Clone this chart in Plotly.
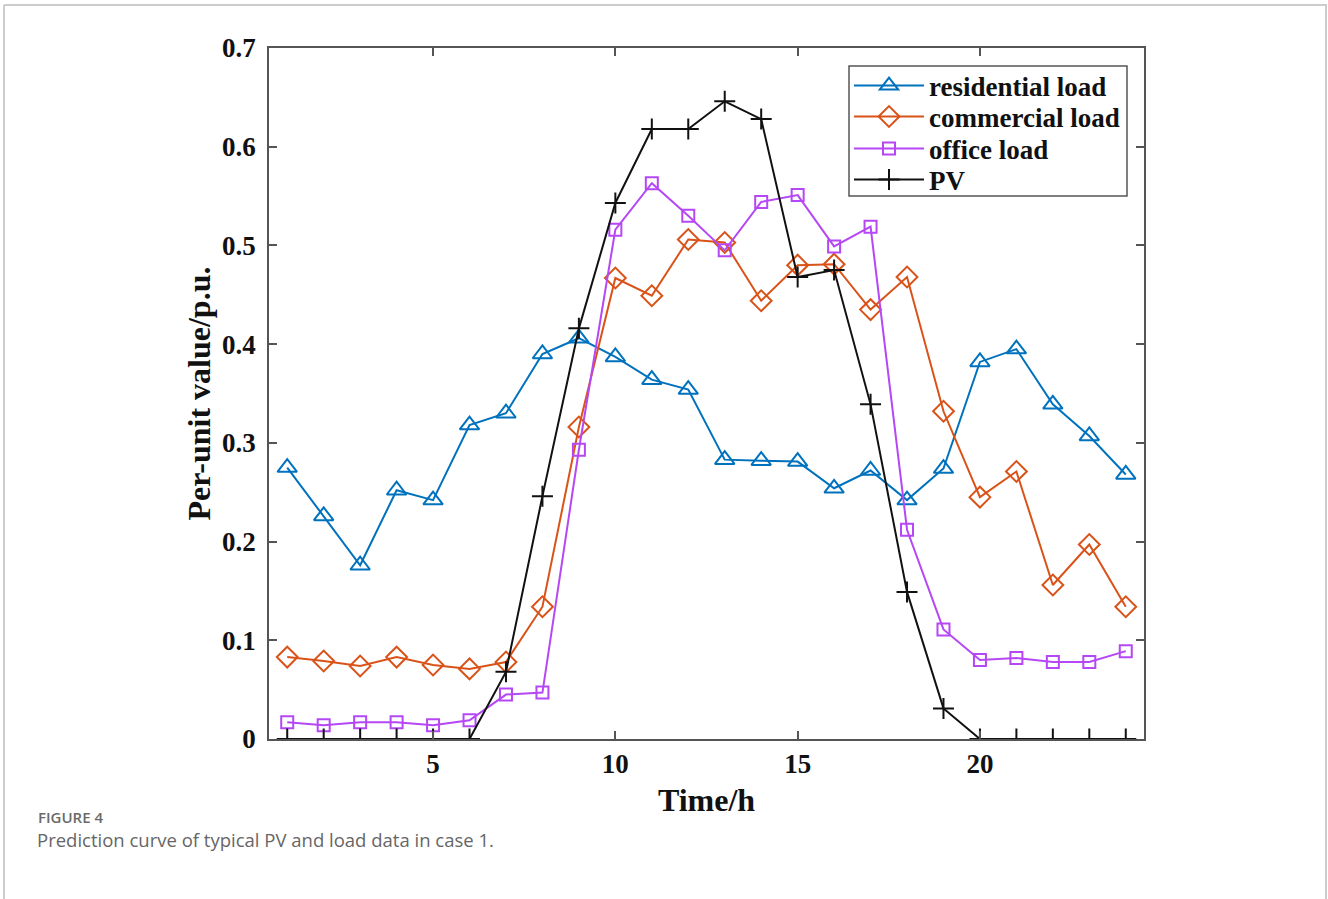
import plotly.graph_objects as go

# Hourly per-unit profiles for case 1
hours = list(range(1, 25))
residential = [0.275, 0.226, 0.176, 0.252, 0.242, 0.318, 0.330, 0.390, 0.406, 0.387,
               0.364, 0.354, 0.283, 0.282, 0.281, 0.254, 0.272, 0.242, 0.274, 0.382,
               0.395, 0.339, 0.307, 0.268]
commercial = [0.083, 0.079, 0.074, 0.083, 0.075, 0.071, 0.078, 0.134, 0.316, 0.467,
              0.449, 0.506, 0.503, 0.444, 0.480, 0.481, 0.435, 0.468, 0.332, 0.245,
              0.271, 0.156, 0.197, 0.134]
office = [0.017, 0.014, 0.017, 0.017, 0.014, 0.019, 0.045, 0.047, 0.293, 0.516,
          0.563, 0.530, 0.495, 0.544, 0.551, 0.499, 0.519, 0.212, 0.111, 0.080,
          0.082, 0.078, 0.078, 0.089]
pv = [0, 0, 0, 0, 0, 0, 0.068, 0.246, 0.416, 0.543,
      0.618, 0.618, 0.646, 0.628, 0.468, 0.475, 0.339, 0.149, 0.031, 0,
      0, 0, 0, 0]

x_ticks = [5, 10, 15, 20]
y_ticks = [0, 0.1, 0.2, 0.3, 0.4, 0.5, 0.6, 0.7]
y_tick_text = ["0", "0.1", "0.2", "0.3", "0.4", "0.5", "0.6", "0.7"]

series = [
    ("residential load", residential, "#0072BD", "triangle-up-open", 17),
    ("commercial load", commercial, "#D95319", "diamond-open", 16),
    ("office load", office, "#B647F5", "square-open", 12),
    ("PV", pv, "#111111", "cross-thin-open", 15),
]

serif = "Liberation Serif, Times New Roman, serif"
ink = "#111111"

# pixel -> paper helpers for the page furniture
W, H = 1328, 899
L, R, T, B = 269, 184, 48, 160
pw, ph = W - L - R, H - T - B


def px(xp):
    return (xp - L) / pw


def py(yp):
    return (H - B - yp) / ph


# each series gets its own legend row so the rows can sit tightly inside one box
legend_ids = ["legend", "legend2", "legend3", "legend4"]
legend_rows = [86, 117, 149, 180]

fig = go.Figure()
for (name, vals, color, symbol, size), lid in zip(series, legend_ids):
    fig.add_trace(go.Scatter(
        x=hours, y=vals, name=name, mode="lines+markers",
        line=dict(color=color, width=2),
        marker=dict(symbol=symbol, size=size, color=color,
                    line=dict(color=color, width=2)),
        legend=lid,
    ))

axis_common = dict(
    showline=True, linecolor="#555555", linewidth=1.5, mirror="ticks",
    ticks="inside", ticklen=8, tickwidth=1.5, tickcolor="#555555",
    showgrid=False, zeroline=False,
    tickfont=dict(family=serif, size=27, color=ink, weight="bold"),
)

fig.update_xaxes(range=[0.5, 24.5], tickvals=x_ticks,
                 title=dict(text="<b>Time/h</b>", standoff=10,
                            font=dict(family=serif, size=32, color=ink)),
                 **axis_common)
fig.update_yaxes(range=[0, 0.7], tickvals=y_ticks, ticktext=y_tick_text,
                 ticklabelstandoff=6,
                 title=dict(text="<b>Per-unit value/p.u.</b>", standoff=2,
                            font=dict(family=serif, size=32, color=ink)),
                 **axis_common)

legend_style = dict(
    xanchor="left", yanchor="middle",
    bgcolor="rgba(0,0,0,0)", borderwidth=0,
    font=dict(family=serif, size=27, color=ink, weight="bold"),
    itemwidth=70,
)
layout_legends = {}
for lid, row in zip(legend_ids, legend_rows):
    layout_legends[lid] = dict(x=px(849), y=py(row), **legend_style)

fig.update_layout(
    width=W, height=H,
    margin=dict(l=L, r=R, t=T, b=B),
    paper_bgcolor="white", plot_bgcolor="white",
    showlegend=True,
    **layout_legends,
    shapes=[
        # legend frame
        dict(type="rect", xref="paper", yref="paper", x0=px(849), x1=px(1127), y0=py(196), y1=py(66),
             line=dict(color="#555555", width=1.5), fillcolor="white", layer="below"),
        # page frame
        dict(type="line", xref="paper", yref="paper", x0=px(4), x1=px(4), y0=py(5), y1=py(899),
             line=dict(color="#cccccc", width=2)),
        dict(type="line", xref="paper", yref="paper", x0=px(4), x1=px(1327), y0=py(5), y1=py(5),
             line=dict(color="#cccccc", width=2)),
        dict(type="line", xref="paper", yref="paper", x0=px(1326), x1=px(1326), y0=py(5), y1=py(899),
             line=dict(color="#cccccc", width=2)),
    ],
)

fig.add_annotation(xref="paper", yref="paper", x=px(36), y=py(817), xanchor="left", yanchor="middle",
                   text="FIGURE 4", showarrow=False,
                   font=dict(family="Open Sans, sans-serif", size=15, color="#6a6a6a", weight=600))
fig.add_annotation(xref="paper", yref="paper", x=px(35), y=py(839), xanchor="left", yanchor="middle",
                   text="Prediction curve of typical PV and load data in case 1.", showarrow=False,
                   font=dict(family="Open Sans, sans-serif", size=18.5, color="#666666"))

fig.write_html("out.html")
